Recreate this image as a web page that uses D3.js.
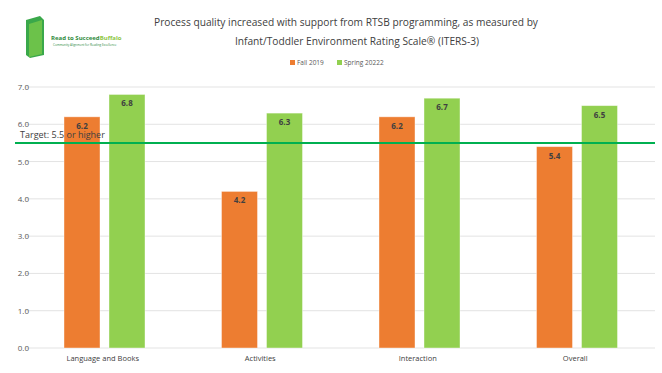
<!DOCTYPE html>
<html>
<head>
<meta charset="utf-8">
<script src="https://cdn.jsdelivr.net/npm/d3@7"></script>
<style>
body { margin: 0; background: #fff; }
text { font-family: "Open Sans", "Noto Sans", sans-serif; }
</style>
</head>
<body>
<svg id="chart" width="662" height="373"></svg>
<script>
// chart values
var categories = ["Language and Books", "Activities", "Interaction", "Overall"];
var seriesNames = ["Fall 2019", "Spring 20222"];
var fall2019 = [6.2, 4.2, 6.2, 5.4];
var spring2022 = [6.8, 6.3, 6.7, 6.5];
var yTicks = [0, 1, 2, 3, 4, 5, 6, 7];
var target = 5.5;
var targetLabel = "Target: 5.5 or higher";
var colors = ["#ED7D31", "#92D050"];

var svg = d3.select("#chart");

var plotLeft = 25, plotRight = 655, plotTop = 87, plotBottom = 348;

var x0 = d3.scaleBand().domain(categories).range([plotLeft, plotRight]);
var x1 = d3.scaleBand().domain(seriesNames).range([39, 120]).paddingInner(0.2);
var y = d3.scaleLinear().domain([0, 7]).range([plotBottom, plotTop]);

// gridlines
svg.append("g").selectAll("line")
	.data(yTicks)
	.enter().append("line")
	.attr("x1", plotLeft).attr("x2", plotRight)
	.attr("y1", function(d){ return y(d); })
	.attr("y2", function(d){ return y(d); })
	.attr("stroke", "#e3e3e3")
	.attr("stroke-width", 1);

// y tick labels
svg.append("g").selectAll("text")
	.data(yTicks)
	.enter().append("text")
	.attr("x", 29)
	.attr("y", function(d){ return y(d) + 3; })
	.attr("text-anchor", "end")
	.attr("font-size", "8px")
	.attr("fill", "#595959")
	.text(function(d){ return d.toFixed(1); });

// bars
var rows = categories.map(function(c, i){
	return { cat: c, vals: [fall2019[i], spring2022[i]] };
});

var groups = svg.append("g").selectAll("g")
	.data(rows)
	.enter().append("g")
	.attr("transform", function(d){ return "translate(" + x0(d.cat) + ",0)"; });

function barData(d){
	return d.vals.map(function(v, j){ return { s: seriesNames[j], v: v, j: j }; });
}

groups.selectAll("rect")
	.data(barData)
	.enter().append("rect")
	.attr("x", function(d){ return x1(d.s); })
	.attr("y", function(d){ return y(d.v); })
	.attr("width", x1.bandwidth())
	.attr("height", function(d){ return plotBottom - y(d.v); })
	.attr("fill", function(d){ return colors[d.j]; })
	.attr("stroke", "#ffffff")
	.attr("stroke-opacity", 0.5)
	.attr("stroke-width", 0.8);

groups.selectAll("text.val")
	.data(barData)
	.enter().append("text")
	.attr("class", "val")
	.attr("x", function(d){ return x1(d.s) + x1.bandwidth() / 2; })
	.attr("y", function(d){ return y(d.v) + 12; })
	.attr("text-anchor", "middle")
	.attr("font-size", "8px")
	.attr("font-weight", "bold")
	.attr("fill", "#404040")
	.text(function(d){ return d.v.toFixed(1); });

// category labels
svg.append("g").selectAll("text")
	.data(categories)
	.enter().append("text")
	.attr("x", function(d){ return x0(d) + x0.bandwidth() / 2 - 1; })
	.attr("y", 361)
	.attr("text-anchor", "middle")
	.attr("font-size", "7.5px")
	.attr("fill", "#404040")
	.text(function(d){ return d; });

// target line
svg.append("line")
	.attr("x1", 15).attr("x2", plotRight)
	.attr("y1", y(target)).attr("y2", y(target))
	.attr("stroke", "#00B050")
	.attr("stroke-width", 2);

svg.append("text")
	.attr("x", 20)
	.attr("y", y(target) - 5)
	.attr("font-size", "9px")
	.attr("fill", "#404040")
	.text(targetLabel);

// title
svg.append("text")
	.attr("x", 346).attr("y", 26)
	.attr("text-anchor", "middle")
	.attr("font-size", "10.2px")
	.attr("fill", "#404040")
	.text("Process quality increased with support from RTSB programming, as measured by");
svg.append("text")
	.attr("x", 357).attr("y", 45)
	.attr("text-anchor", "middle")
	.attr("font-size", "10.2px")
	.attr("fill", "#404040")
	.text("Infant/Toddler Environment Rating Scale\u00AE (ITERS-3)");

// legend
var legendX = [290, 337];
seriesNames.forEach(function(n, i){
	svg.append("rect")
		.attr("x", legendX[i]).attr("y", 60)
		.attr("width", 5).attr("height", 5)
		.attr("fill", colors[i]);
	svg.append("text")
		.attr("x", legendX[i] + 7).attr("y", 65)
		.attr("font-size", "6.5px")
		.attr("fill", "#595959")
		.text(n);
});

// logo
var logo = svg.append("g");
logo.append("path")
	.attr("d", "M26,20 L40,16 L44,20 L44,55 L30,58 L26,55 Z")
	.attr("fill", "#3aa84a");
logo.append("path")
	.attr("d", "M29,24 L42,20 L42,54 L29,57 Z")
	.attr("fill", "#6cc24a");
logo.append("text")
	.attr("x", 51).attr("y", 40)
	.attr("font-size", "6px")
	.attr("font-weight", "bold")
	.attr("fill", "#2e8b3d")
	.text("Read to Succeed")
	.append("tspan")
	.attr("fill", "#8cc63f")
	.text("Buffalo");
logo.append("text")
	.attr("x", 53).attr("y", 46)
	.attr("font-size", "3px")
	.attr("fill", "#2e8b3d")
	.text("Community Alignment for Reading Excellence");
</script>
</body>
</html>
